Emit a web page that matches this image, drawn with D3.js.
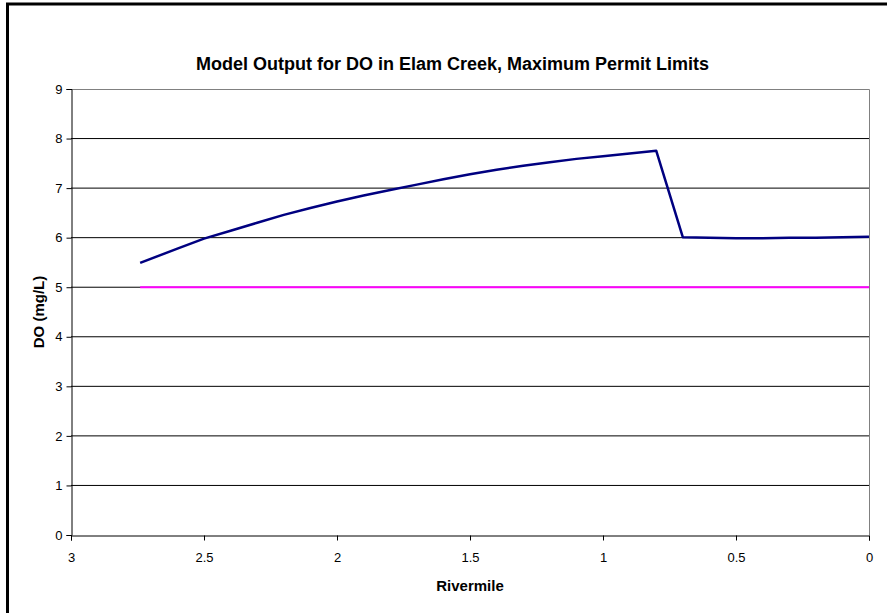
<!DOCTYPE html>
<html>
<head>
<meta charset="utf-8">
<script src="https://cdn.jsdelivr.net/npm/d3@7"></script>
<style>
  body { margin: 0; background: #fff; }
  svg { display: block; font-family: Arial, "Liberation Sans", sans-serif; }
  .axis text { font-size: 13px; fill: #000; font-family: Arial, "Liberation Sans", sans-serif; }
</style>
</head>
<body>
<svg id="chart" width="887" height="613"></svg>
<script>
const titleText = "Model Output for DO in Elam Creek, Maximum Permit Limits";
const xLabel = "Rivermile";
const yLabel = "DO (mg/L)";

const rivermile = [2.74, 2.6, 2.5, 2.4, 2.3, 2.2, 2.1, 2.0, 1.9, 1.8, 1.7, 1.6, 1.5, 1.4, 1.3, 1.2, 1.1, 1.0, 0.9, 0.8, 0.7, 0.6, 0.5, 0.4, 0.3, 0.2, 0.1, 0.0];
const doValues  = [5.49, 5.78, 5.98, 6.14, 6.30, 6.46, 6.60, 6.73, 6.85, 6.96, 7.07, 7.18, 7.28, 7.37, 7.45, 7.52, 7.59, 7.645, 7.70, 7.755, 6.01, 6.00, 5.99, 5.99, 6.00, 6.00, 6.01, 6.02];
const standardMiles = [2.74, 0.0];
const standardValues = [5, 5];

const xTicks = [3, 2.5, 2, 1.5, 1, 0.5, 0];
const yTicks = [0, 1, 2, 3, 4, 5, 6, 7, 8, 9];

const svg = d3.select("#chart");
const plot = { left: 71, right: 869, top: 89, bottom: 535 };

const x = d3.scaleLinear().domain([3, 0]).range([plot.left, plot.right]);
const y = d3.scaleLinear().domain([0, 9]).range([plot.bottom, plot.top]);

// outer border
svg.append("rect").attr("x", 7.5).attr("y", 4).attr("width", 1000).attr("height", 1000)
  .attr("fill", "none").attr("stroke", "#000").attr("stroke-width", 3);

// gridlines
svg.append("g").selectAll("line").data(yTicks.filter(d => d > 0 && d < 9)).join("line")
  .attr("x1", plot.left).attr("x2", plot.right)
  .attr("y1", d => y(d)).attr("y2", d => y(d))
  .attr("stroke", "#000").attr("stroke-width", 1);

// plot border top & right (gray)
svg.append("path")
  .attr("d", `M${plot.left},${plot.top + 0.5}H${plot.right + 0.5}V${plot.bottom}`)
  .attr("fill", "none").attr("stroke", "#808080").attr("stroke-width", 1);

// axes
const yAxis = d3.axisLeft(y).tickValues(yTicks).tickSize(5).tickPadding(4).tickFormat(d3.format("d"));
const gy = svg.append("g").attr("class", "axis").attr("font-size", 13)
  .attr("transform", `translate(${plot.left + 0.5},0)`).call(yAxis);
gy.select(".domain").attr("stroke", "#000");
gy.selectAll(".tick line").attr("stroke", "#000");

const xAxis = d3.axisBottom(x).tickValues(xTicks).tickSize(5).tickPadding(12).tickFormat(d => String(d));
const gx = svg.append("g").attr("class", "axis").attr("font-size", 13)
  .attr("transform", `translate(0,${plot.bottom + 0.5})`).call(xAxis);
gx.select(".domain").attr("stroke", "#000");
gx.selectAll(".tick line").attr("stroke", "#000");

// lines
const line = d3.line().x(d => x(d[0])).y(d => y(d[1]));
svg.append("path")
  .datum(standardMiles.map((m, i) => [m, standardValues[i]]))
  .attr("d", line).attr("fill", "none").attr("stroke", "#FF00FF").attr("stroke-width", 2);
svg.append("path")
  .datum(rivermile.map((m, i) => [m, doValues[i]]))
  .attr("d", line)
  .attr("fill", "none").attr("stroke", "#000080").attr("stroke-width", 2.5)
  .attr("stroke-linejoin", "round");

// title
svg.append("text").attr("x", 452.5).attr("y", 70).attr("text-anchor", "middle")
  .attr("font-size", 18).attr("font-weight", "bold").text(titleText);
// x label
svg.append("text").attr("x", 470).attr("y", 591).attr("text-anchor", "middle")
  .attr("font-size", 15).attr("font-weight", "bold").text(xLabel);
// y label
svg.append("text").attr("transform", `translate(44,${(plot.top + plot.bottom) / 2}) rotate(-90)`)
  .attr("text-anchor", "middle").attr("font-size", 15).attr("font-weight", "bold").text(yLabel);
</script>
</body>
</html>
